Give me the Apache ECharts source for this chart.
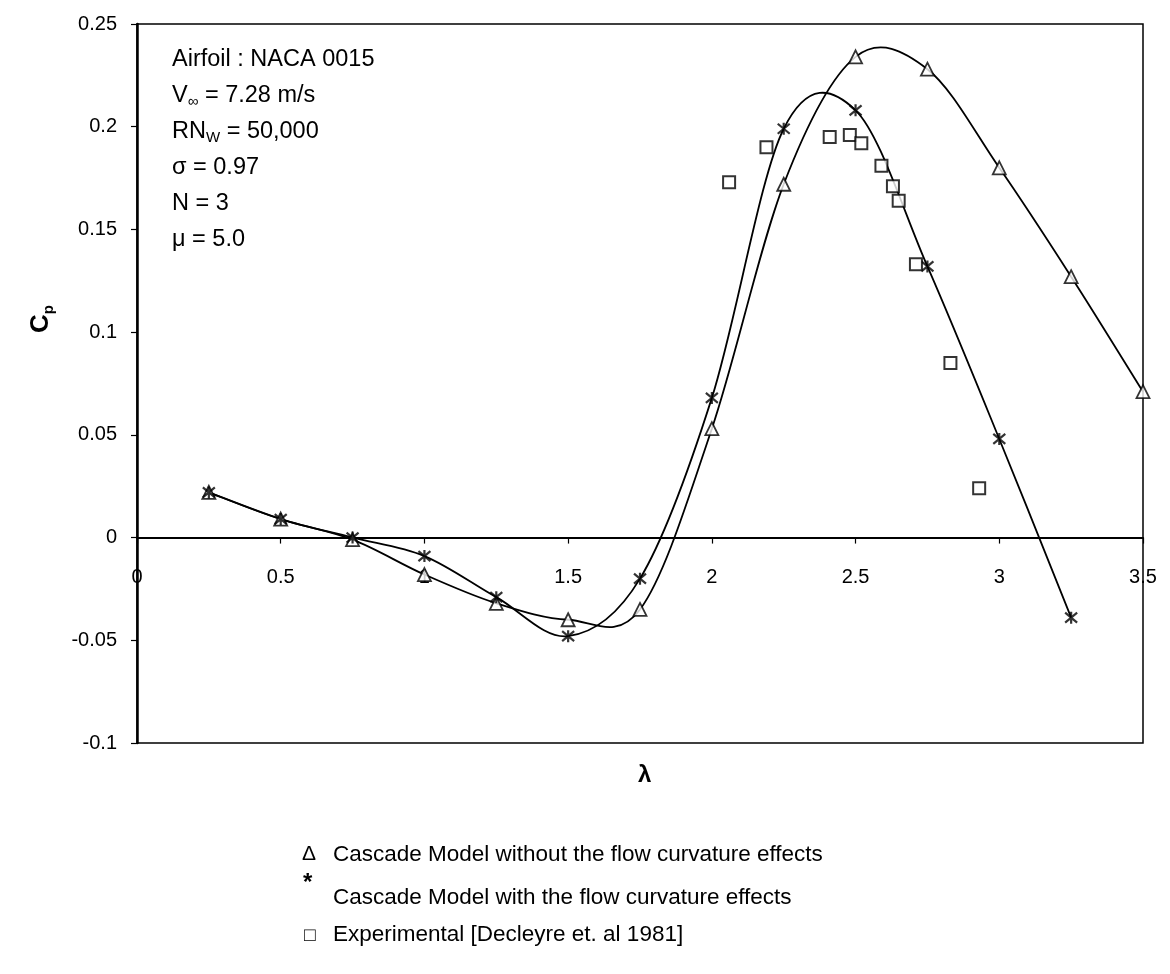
<!DOCTYPE html>
<html>
<head>
<meta charset="utf-8">
<script src="https://cdn.jsdelivr.net/npm/echarts@6/dist/echarts.min.js"></script>
<style>html,body{margin:0;padding:0;background:#fff}#c{width:1170px;height:974px}</style>
</head>
<body>
<div id="c"></div>
<script>
// Data
const lambdaModel = [0.25, 0.5, 0.75, 1.0, 1.25, 1.5, 1.75, 2.0, 2.25, 2.5, 2.75, 3.0, 3.25, 3.5];
const cpNoCurvature = [0.022, 0.009, -0.001, -0.018, -0.032, -0.040, -0.035, 0.053, 0.172, 0.234, 0.228, 0.180, 0.127, 0.071];
const lambdaCurv = [0.25, 0.5, 0.75, 1.0, 1.25, 1.5, 1.75, 2.0, 2.25, 2.5, 2.75, 3.0, 3.25];
const cpCurvature = [0.022, 0.009, 0.000, -0.009, -0.029, -0.048, -0.020, 0.068, 0.199, 0.208, 0.132, 0.048, -0.039];
const lambdaExp = [2.06, 2.19, 2.41, 2.48, 2.52, 2.59, 2.63, 2.65, 2.71, 2.83, 2.93];
const cpExp = [0.173, 0.190, 0.195, 0.196, 0.192, 0.181, 0.171, 0.164, 0.133, 0.085, 0.024];
const xTicks = [0, 0.5, 1, 1.5, 2, 2.5, 3, 3.5];
const yTicks = [-0.1, -0.05, 0, 0.05, 0.1, 0.15, 0.2, 0.25];
const legendLabels = ['Cascade Model without the flow curvature effects', 'Cascade Model with the flow curvature effects', 'Experimental [Decleyre et. al 1981]'];

const FONT = '"Liberation Sans", Arial, sans-serif';
const zip = (xs, ys) => xs.map((x, i) => [x, ys[i]]);
const starPath = 'path://M0,0L10,10M10,0L0,10M5,-1L5,11';

// smooth curve through the data points (Catmull-Rom -> cubic Bezier), positioned via axis scales
function curveRenderer(xs, ys) {
  return function (params, api) {
    const P = xs.map((x, i) => api.coord([x, ys[i]]));
    const n = P.length, children = [];
    for (let i = 0; i < n - 1; i++) {
      const p0 = P[Math.max(i - 1, 0)], p1 = P[i], p2 = P[i + 1], p3 = P[Math.min(i + 2, n - 1)];
      children.push({
        type: 'bezierCurve',
        shape: {
          x1: p1[0], y1: p1[1], x2: p2[0], y2: p2[1],
          cpx1: p1[0] + (p2[0] - p0[0]) / 6, cpy1: p1[1] + (p2[1] - p0[1]) / 6,
          cpx2: p2[0] - (p3[0] - p1[0]) / 6, cpy2: p2[1] - (p3[1] - p1[1]) / 6
        },
        style: {stroke: '#000', lineWidth: 1.8, fill: null}
      });
    }
    return {type: 'group', children};
  };
}

const gridTop = 24, gridBottom = 231, gridH = 974 - gridTop - gridBottom;
const yMin = yTicks[0], yMax = yTicks[yTicks.length - 1];
const zeroOffset = gridH * (0 - yMin) / (yMax - yMin);

const chart = echarts.init(document.getElementById('c'), null, {renderer: 'canvas'});
chart.setOption({
  animation: false,
  backgroundColor: '#fff',
  grid: {left: 137, right: 27, top: gridTop, bottom: gridBottom, show: true, borderColor: '#000', borderWidth: 1.5, backgroundColor: 'transparent'},
  xAxis: {
    type: 'value', min: xTicks[0], max: xTicks[xTicks.length - 1], interval: 0.5,
    offset: -zeroOffset,
    axisLine: {onZero: false, lineStyle: {color: '#000', width: 1.8}},
    axisTick: {show: true, inside: false, length: 6, lineStyle: {color: '#000', width: 1.2}},
    axisLabel: {color: '#000', fontFamily: FONT, fontSize: 20, margin: 30, formatter: v => String(v)},
    splitLine: {show: false}
  },
  yAxis: {
    type: 'value', min: yMin, max: yMax, interval: 0.05,
    axisLine: {onZero: false, lineStyle: {color: '#000', width: 2.5}},
    axisTick: {show: true, inside: false, length: 6, lineStyle: {color: '#000', width: 1.2}},
    axisLabel: {color: '#000', fontFamily: FONT, fontSize: 20, margin: 20, formatter: v => String(+v.toFixed(2))},
    splitLine: {show: false}
  },
  series: [
    {type: 'custom', data: [[0, 0]], renderItem: curveRenderer(lambdaModel, cpNoCurvature), z: 2, silent: true},
    {type: 'custom', data: [[0, 0]], renderItem: curveRenderer(lambdaCurv, cpCurvature), z: 2, silent: true},
    {
      type: 'scatter', name: legendLabels[0], data: zip(lambdaModel, cpNoCurvature),
      symbol: 'triangle', symbolSize: 13,
      itemStyle: {color: '#fff', borderColor: '#000', borderWidth: 1.8}, z: 3
    },
    {
      type: 'scatter', name: legendLabels[1], data: zip(lambdaCurv, cpCurvature),
      symbol: starPath, symbolSize: 12,
      itemStyle: {color: '#000', borderColor: '#000', borderWidth: 2.2}, z: 4
    },
    {
      type: 'scatter', name: legendLabels[2], data: zip(lambdaExp, cpExp),
      symbol: 'rect', symbolSize: 12,
      itemStyle: {color: '#fff', borderColor: '#000', borderWidth: 2}, z: 5
    }
  ],
  graphic: [
    {type: 'text', left: 638, top: 763, style: {text: 'λ', font: 'bold 24px ' + FONT, fill: '#000'}},
    {type: 'text', left: 28, top: 305, rotation: Math.PI / 2, style: {
      text: '{c|C}{p|p}', fill: '#000',
      rich: {c: {font: 'bold 26px ' + FONT, fill: '#000', lineHeight: 30}, p: {font: 'bold 15px ' + FONT, fill: '#000', lineHeight: 18, verticalAlign: 'bottom'}}
    }},
    ...[
      '{n|Airfoil : NACA 0015}',
      '{n|V}{s|∞}{n| = 7.28 m/s}',
      '{n|RN}{s|W}{n| = 50,000}',
      '{n|σ = 0.97}',
      '{n|N = 3}',
      '{n|μ = 5.0}'
    ].map((t, i) => ({
      type: 'text', left: 172, top: 48 + i * 36,
      style: {text: t, fill: '#000', rich: {
        n: {font: '23.5px ' + FONT, fill: '#000', lineHeight: 27},
        s: {font: '15px ' + FONT, fill: '#000', lineHeight: 15, verticalAlign: 'bottom'}
      }}
    })),
    {type: 'text', left: 302, top: 844, style: {text: 'Δ', font: '21px ' + FONT, fill: '#000'}},
    {type: 'text', left: 303, top: 871, style: {text: '*', font: 'bold 24px ' + FONT, fill: '#000'}},
    {type: 'text', left: 304, top: 926, style: {text: '□', font: '19px ' + FONT, fill: '#000'}},
    ...legendLabels.map((t, i) => ({
      type: 'text', left: 333, top: 843 + i * 40 + (i === 1 ? 3 : 0),
      style: {text: t, font: '22.5px ' + FONT, fill: '#000'}
    }))
  ]
});
</script>
</body>
</html>
